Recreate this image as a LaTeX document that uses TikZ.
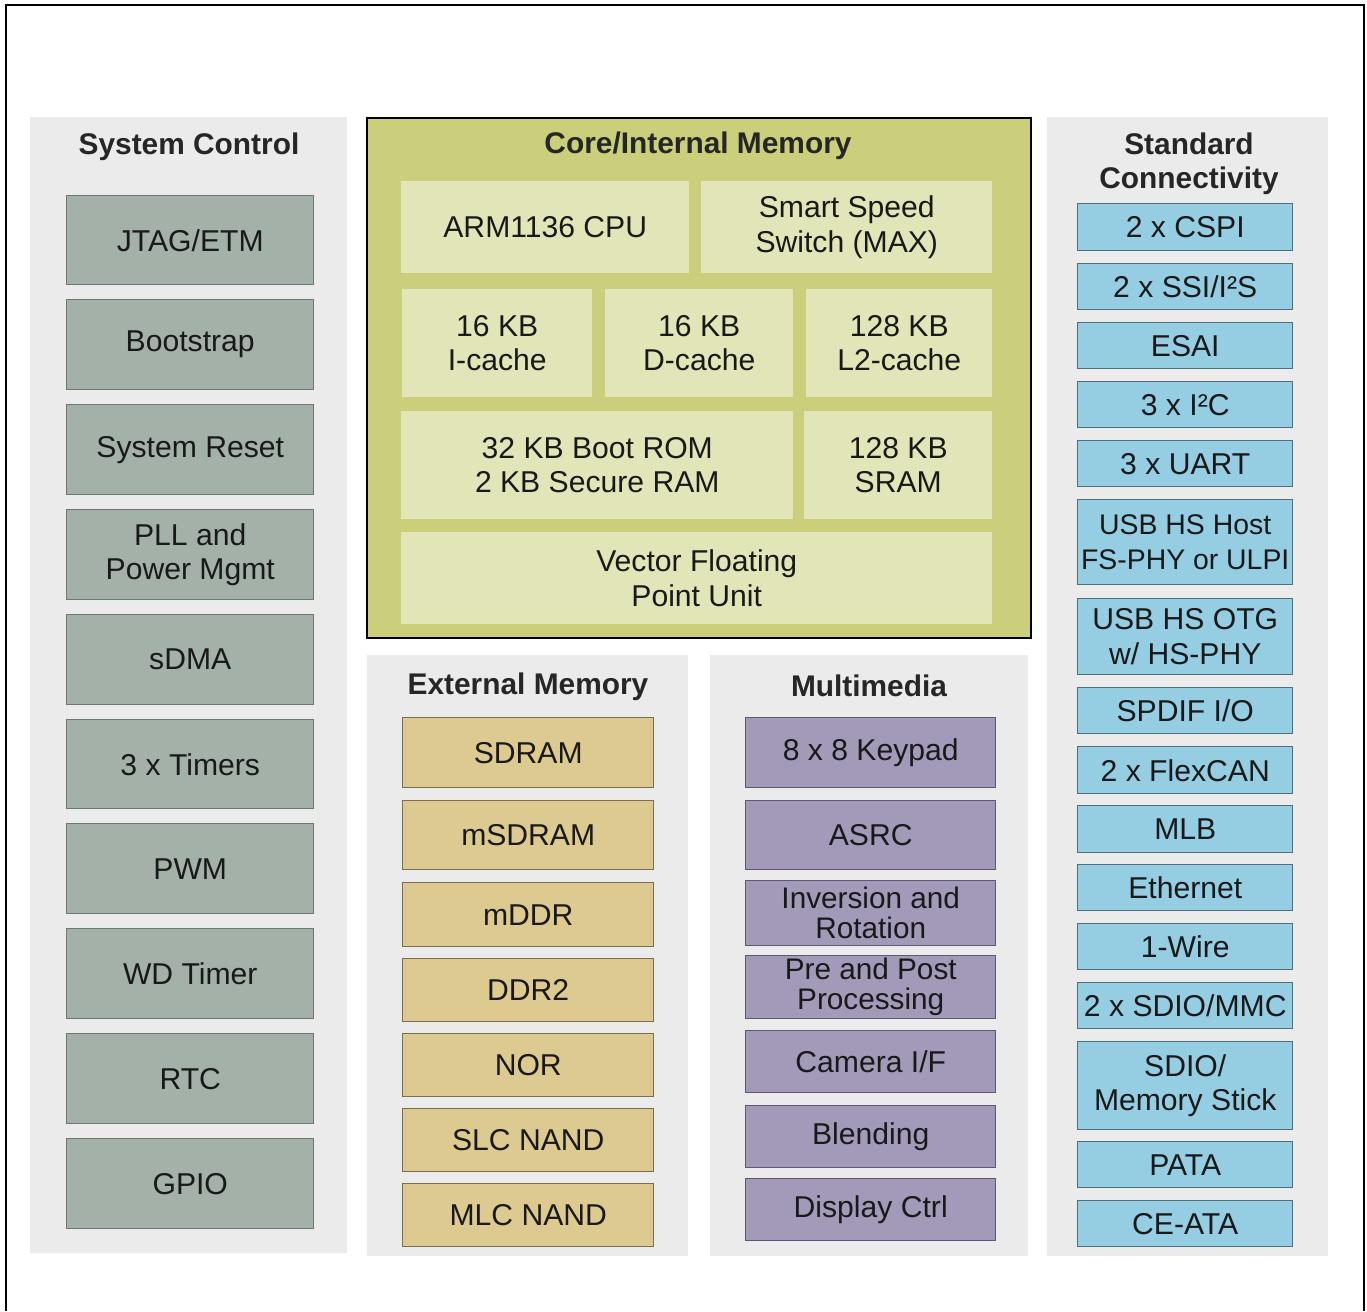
\documentclass[tikz,border=0pt]{standalone}
\usepackage{fontspec}
\setmainfont{Liberation Sans}
\definecolor{panelgray}{HTML}{EBEBEB}
\definecolor{sysfill}{HTML}{A4B1A9}
\definecolor{sysdraw}{HTML}{6E7872}
\definecolor{corefill}{HTML}{CBCF7B}
\definecolor{coreinner}{HTML}{E2E5B7}
\definecolor{extfill}{HTML}{DDCA90}
\definecolor{extdraw}{HTML}{7A6F50}
\definecolor{mmfill}{HTML}{A39AB9}
\definecolor{mmdraw}{HTML}{5E5870}
\definecolor{confill}{HTML}{95CDE2}
\definecolor{condraw}{HTML}{4F6F7A}
\newcommand\blk[7]{\node[#6, anchor=north west, minimum width={(#4-#2)*0.75pt}, minimum height={(#5-#3)*0.75pt}] (#1) at (#2,#3) {#7};}
\begin{document}
\begin{tikzpicture}[x=0.75pt,y=-0.75pt,
  txt/.style={font=\fontsize{22.6}{26}\selectfont, align=center, inner sep=0pt, text=black!90},
  ttl/.style={font=\fontsize{22.4}{25.5}\selectfont\bfseries, align=center, inner sep=0pt, text=black!85},
  panel/.style={fill=panelgray, draw=none, inner sep=0pt},
  sysb/.style={txt, fill=sysfill, draw=sysdraw, line width=1.1pt},
  inb/.style={txt, fill=coreinner, draw=none},
  extb/.style={txt, fill=extfill, draw=extdraw, line width=1.1pt},
  mmb/.style={txt, fill=mmfill, draw=mmdraw, line width=1.1pt},
  mmt/.style={mmb, font=\fontsize{22.3}{22.5}\selectfont},
  conb/.style={txt, fill=confill, draw=condraw, line width=1.1pt},
  cons/.style={conb, font=\fontsize{21.3}{26}\selectfont},
  frame/.style={draw=black, line width=1.6pt}
]
\useasboundingbox (0,0) rectangle (1367,1311);
\fill[white] (0,0) rectangle (1367,1311);
\coordinate (fbl) at (6,1311);
\coordinate (ftl) at (6,5);
\coordinate (ftr) at (1364,5);
\coordinate (fbr) at (1364,1311);
\draw[frame] (fbl) -- (ftl) -- (ftr) -- (fbr);

% panels
\blk{psys}{30}{117}{347}{1253}{panel}{}
\blk{pext}{367}{655}{688}{1256}{panel}{}
\blk{pmm}{710}{655}{1028}{1256}{panel}{}
\blk{pcon}{1047}{117}{1328}{1256}{panel}{}
\blk{pcore}{366}{117}{1030}{637}{fill=corefill, draw=black, line width=1.5pt, inner sep=0pt}{}

% titles
\node[ttl] (tsys) at (189,147) {System Control};
\node[ttl] (tcore) at (698,146) {Core/Internal Memory};
\node[ttl] (text) at (528,687) {External Memory};
\node[ttl] (tmm) at (869,686) {Multimedia};
\node[ttl] (tcon) at (1189,164) {Standard\\Connectivity};

% system control
\blk{jtag}{66}{195}{313}{284}{sysb}{JTAG/ETM}
\blk{boot}{66}{299}{313}{389}{sysb}{Bootstrap}
\blk{rst}{66}{404}{313}{494}{sysb}{System Reset}
\blk{pll}{66}{509}{313}{599}{sysb}{PLL and\\Power Mgmt}
\blk{sdma}{66}{614}{313}{704}{sysb}{sDMA}
\blk{tmr}{66}{719}{313}{808}{sysb}{3 x Timers}
\blk{pwm}{66}{823}{313}{913}{sysb}{PWM}
\blk{wdt}{66}{928}{313}{1018}{sysb}{WD Timer}
\blk{rtc}{66}{1033}{313}{1123}{sysb}{RTC}
\blk{gpio}{66}{1138}{313}{1228}{sysb}{GPIO}

% core
\blk{cpu}{401}{181}{689}{273}{inb}{ARM1136 CPU}
\blk{sss}{701}{181}{992}{273}{inb}{Smart Speed\\Switch (MAX)}
\blk{icache}{402}{289}{592}{397}{inb}{16 KB\\I-cache}
\blk{dcache}{605}{289}{793}{397}{inb}{16 KB\\D-cache}
\blk{ltwo}{806}{289}{992}{397}{inb}{128 KB\\L2-cache}
\blk{rom}{401}{411}{793}{519}{inb}{32 KB Boot ROM\\2 KB Secure RAM}
\blk{sram}{804}{411}{992}{519}{inb}{128 KB\\SRAM}
\blk{vfp}{401}{532}{992}{624}{inb}{Vector Floating\\Point Unit}

% external memory
\blk{sdram}{402}{717}{653}{787}{extb}{SDRAM}
\blk{msdram}{402}{800}{653}{869}{extb}{mSDRAM}
\blk{mddr}{402}{882}{653}{946}{extb}{mDDR}
\blk{ddr}{402}{958}{653}{1021}{extb}{DDR2}
\blk{nor}{402}{1033}{653}{1096}{extb}{NOR}
\blk{slc}{402}{1108}{653}{1171}{extb}{SLC NAND}
\blk{mlc}{402}{1183}{653}{1246}{extb}{MLC NAND}

% multimedia
\blk{kpd}{745}{717}{995}{787}{mmb}{8 x 8 Keypad}
\blk{asrc}{745}{800}{995}{869}{mmb}{ASRC}
\blk{inv}{745}{880}{995}{945}{mmt}{Inversion and\\Rotation}
\blk{ppp}{745}{955}{995}{1018}{mmt}{Pre and Post\\Processing}
\blk{cam}{745}{1030}{995}{1092}{mmb}{Camera I/F}
\blk{blend}{745}{1105}{995}{1167}{mmb}{Blending}
\blk{disp}{745}{1178}{995}{1240}{mmb}{Display Ctrl}

% connectivity
\blk{cspi}{1077}{203}{1292}{250}{conb}{2 x CSPI}
\blk{ssi}{1077}{263}{1292}{309}{conb}{2 x SSI/I²S}
\blk{esai}{1077}{322}{1292}{368}{conb}{ESAI}
\blk{iic}{1077}{381}{1292}{427}{conb}{3 x I²C}
\blk{uart}{1077}{440}{1292}{486}{conb}{3 x UART}
\blk{usbh}{1077}{499}{1292}{584}{cons}{USB HS Host\\FS-PHY or ULPI}
\blk{usbo}{1077}{598}{1292}{674}{conb}{USB HS OTG\\w/ HS-PHY}
\blk{spdif}{1077}{687}{1292}{733}{conb}{SPDIF I/O}
\blk{can}{1077}{746}{1292}{793}{conb}{2 x FlexCAN}
\blk{mlb}{1077}{805}{1292}{852}{conb}{MLB}
\blk{eth}{1077}{864}{1292}{910}{conb}{Ethernet}
\blk{onew}{1077}{923}{1292}{969}{conb}{1-Wire}
\blk{sdio}{1077}{982}{1292}{1028}{conb}{2 x SDIO/MMC}
\blk{ms}{1077}{1041}{1292}{1129}{conb}{SDIO/\\Memory Stick}
\blk{pata}{1077}{1141}{1292}{1187}{conb}{PATA}
\blk{ceata}{1077}{1200}{1292}{1246}{conb}{CE-ATA}
\end{tikzpicture}
\end{document}
